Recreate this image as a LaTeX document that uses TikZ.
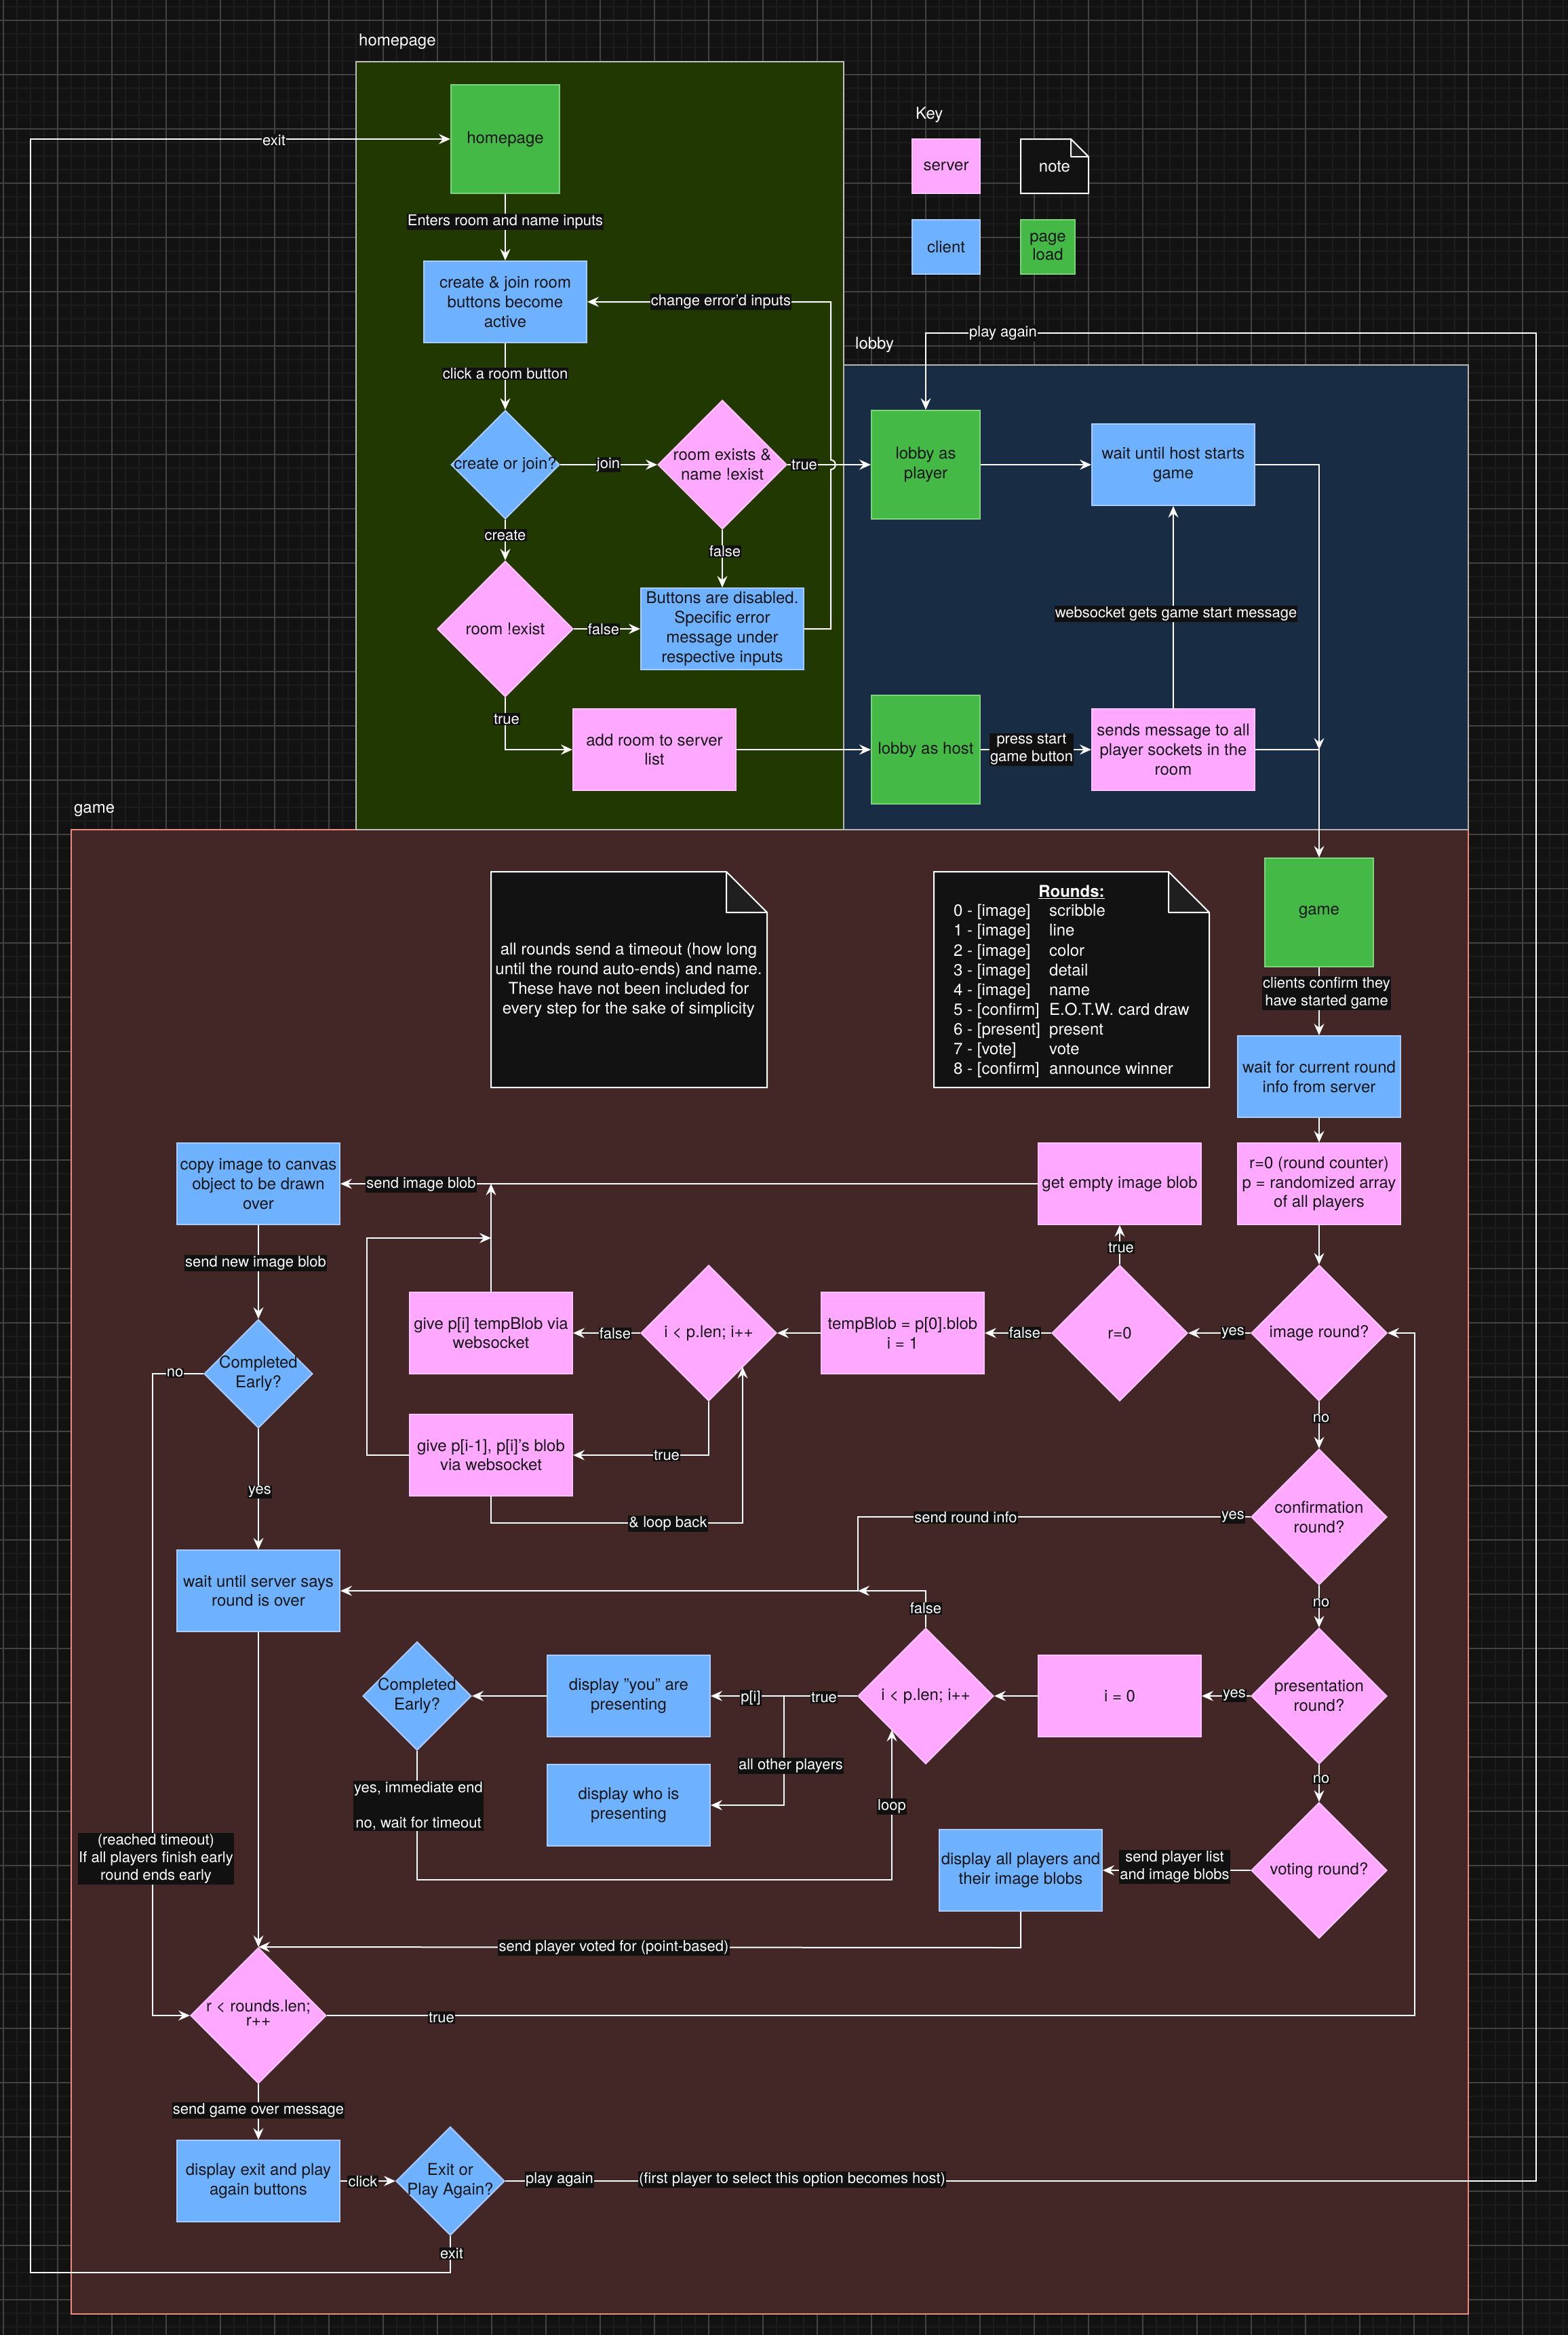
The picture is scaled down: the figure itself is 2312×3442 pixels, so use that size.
\documentclass[tikz,border=0pt]{standalone}
\usepackage{fontspec}
\setmainfont{TeX Gyre Heros}[Ligatures=ResetAll]
\usetikzlibrary{shapes.geometric,arrows.meta}

\definecolor{bgc}{HTML}{121212}
\definecolor{gridminor}{HTML}{1D1D1D}
\definecolor{gridmajor}{HTML}{424242}
\definecolor{hpfill}{HTML}{213800}
\definecolor{hpline}{HTML}{BDBDBD}
\definecolor{lbfill}{HTML}{182C44}
\definecolor{lbline}{HTML}{B5B5B5}
\definecolor{gmfill}{HTML}{432626}
\definecolor{gmline}{HTML}{EE8A80}
\definecolor{srvfill}{HTML}{FFA8FF}
\definecolor{srvline}{HTML}{FFC4FF}
\definecolor{clifill}{HTML}{6EB1FF}
\definecolor{cliline}{HTML}{A9CBFF}
\definecolor{pgfill}{HTML}{44B946}
\definecolor{pgline}{HTML}{7FD37F}
\definecolor{notefill}{HTML}{121212}
\definecolor{foldfill}{HTML}{1F1F1F}
\definecolor{lblbg}{HTML}{111111}
\definecolor{txtdark}{HTML}{151515}

\newcommand\nodefont{\fontsize{24}{28.8}\selectfont}
\newcommand\labfont{\fontsize{22}{26}\selectfont}

\begin{document}
\begin{tikzpicture}[x=1pt,y=-1pt,
  gminor/.style={draw=gridminor,line width=2pt},
  gmajor/.style={draw=gridmajor,line width=1.3pt},
  base/.style={draw,line width=2pt,inner sep=0pt,align=center,text=txtdark,font=\nodefont},
  srv/.style={base,fill=srvfill,draw=srvline},
  cli/.style={base,fill=clifill,draw=cliline},
  pg/.style={base,fill=pgfill,draw=pgline},
  sq/.style={rectangle,minimum width=160pt,minimum height=160pt},
  wide/.style={rectangle,minimum width=240pt,minimum height=120pt},
  dm/.style={diamond,minimum width=#1pt,minimum height=#1pt},
  dtext/.style={inner sep=0pt,align=center,text=txtdark,font=\nodefont},
  wtext/.style={inner sep=0pt,align=center,text=white,font=\nodefont},
  elab/.style={fill=lblbg,text=white,font=\labfont,inner sep=1.2pt,align=center},
  flow/.style={draw=white,line width=2pt,-{Stealth[length=17pt,width=15pt,inset=6pt]}},
  notebox/.style={draw=white,line width=2pt,fill=notefill},
  notefold/.style={draw=white,line width=2pt,fill=foldfill,line join=round},
]
\useasboundingbox (0,0) rectangle (2312,3442);
\fill[bgc] (0,0) rectangle (2312,3442);

% background grid
\begin{scope}
\clip (0,0) rectangle (2312,3442);
\foreach \x in {5,25,...,2305} \draw[gminor] (\x,0) -- (\x,3442);
\foreach \y in {10,30,...,3430} \draw[gminor] (0,\y) -- (2312,\y);
\foreach \x in {5,85,...,2245} \draw[gmajor] (\x,0) -- (\x,3442);
\foreach \y in {30,110,...,3390} \draw[gmajor] (0,\y) -- (2312,\y);
\end{scope}

% swimlane containers
\draw[draw=gmline,fill=gmfill,line width=2pt] (105,1223) rectangle (2165,3411);
\draw[draw=hpline,fill=hpfill,line width=2pt] (525,91) rectangle (1244,1223);
\draw[draw=lbline,fill=lbfill,line width=2pt] (1244,538) rectangle (2165,1223);
\node[wtext,anchor=west] (lanehp) at (529,61) {homepage};
\node[wtext,anchor=west] (lanelb) at (1261,508) {lobby};
\node[wtext,anchor=west] (lanegm) at (109,1195) {game};

% key
\node[wtext,anchor=west] (keyt) at (1350,169) {Key};
\node[srv,rectangle,minimum width=100pt,minimum height=80pt] (keysrv) at (1395,245) {server};
\node[cli,rectangle,minimum width=100pt,minimum height=80pt] (keycli) at (1395,364) {client};
\node[pg,rectangle,minimum width=80pt,minimum height=80pt,font=\nodefont\linespread{0.95}\selectfont] (keypg) at (1545,364) {page\\load};
\draw[notebox] (1505,205) -- (1579,205) -- (1605,231) -- (1605,285) -- (1505,285) -- cycle;
\draw[notefold] (1579,205) -- (1579,231) -- (1605,231) -- cycle;
\node[wtext] (keynote) at (1555,246) {note};

% notes in the game lane
\draw[notebox] (724,1285) -- (1071,1285) -- (1131,1345) -- (1131,1603) -- (724,1603) -- cycle;
\draw[notefold] (1071,1285) -- (1071,1345) -- (1131,1345) -- cycle;
\node[wtext] (note1) at (927,1445) {all rounds send a timeout (how long\\until the round auto-ends) and name.\\These have not been included for\\every step for the sake of simplicity};
\draw[notebox] (1377,1285) -- (1723,1285) -- (1783,1345) -- (1783,1603) -- (1377,1603) -- cycle;
\draw[notefold] (1723,1285) -- (1723,1345) -- (1783,1345) -- cycle;
\node[wtext] (roundst) at (1580,1315) {\underline{\textbf{Rounds:}}};
\node[wtext,anchor=west,align=left,font=\fontsize{24}{29.1}\selectfont] (rounds) at (1406,1461) {%
\makebox[141pt][l]{0 - [image]}scribble\\
\makebox[141pt][l]{1 - [image]}line\\
\makebox[141pt][l]{2 - [image]}color\\
\makebox[141pt][l]{3 - [image]}detail\\
\makebox[141pt][l]{4 - [image]}name\\
\makebox[141pt][l]{5 - [confirm]}E.O.T.W. card draw\\
\makebox[141pt][l]{6 - [present]}present\\
\makebox[141pt][l]{7 - [vote]}vote\\
\makebox[141pt][l]{8 - [confirm]}announce winner};

% homepage lane
\node[pg,sq] (hp) at (745,205) {homepage};
\node[cli,wide] (cj) at (745,445) {create \& join room\\buttons become\\active};
\node[cli,dm=160] (cjd) at (745,685) {};
\node[dtext] (cjdt) at (cjd) {create or join?};
\node[srv,dm=190] (rex) at (1065,685) {};
\node[dtext] (rext) at (rex) {room exists \&\\name !exist};
\node[srv,dm=200] (rne) at (745,927) {};
\node[dtext] (rnet) at (rne) {room !exist};
\node[cli,wide] (dis) at (1065,927) {Buttons are disabled.\\Specific error\\message under\\respective inputs};
\node[srv,wide] (add) at (965,1105) {add room to server\\list};

% lobby lane
\node[pg,sq] (lp) at (1365,685) {lobby as\\player};
\node[cli,wide] (wh) at (1730,685) {wait until host starts\\game};
\node[pg,sq] (lh) at (1365,1105) {lobby as host};
\node[srv,wide] (sm) at (1730,1105) {sends message to all\\player sockets in the\\room};

% game lane
\node[pg,sq] (gm) at (1945,1345) {game};
\node[cli,wide] (wr) at (1945,1587) {wait for current round\\info from server};
\node[srv,wide] (rz) at (1945,1745) {r=0 (round counter)\\p = randomized array\\of all players};
\node[srv,dm=200] (imr) at (1945,1965) {};
\node[dtext] (imrt) at (imr) {image round?};
\node[srv,dm=200] (r0) at (1651,1965) {};
\node[dtext] (r0t) at (r0) {r=0};
\node[srv,wide] (geb) at (1651,1745) {get empty image blob};
\node[srv,wide] (tb) at (1331,1965) {tempBlob = p[0].blob\\i = 1};
\node[srv,dm=200] (il1) at (1045,1965) {};
\node[dtext] (il1t) at (il1) {i < p.len; i++};
\node[srv,wide] (gt) at (724,1965) {give p[i] tempBlob via\\websocket};
\node[srv,wide] (gb) at (724,2145) {give p[i-1], p[i]'s blob\\via websocket};
\node[cli,wide] (ci) at (381,1745) {copy image to canvas\\object to be drawn\\over};
\node[cli,dm=160] (ce1) at (381,2025) {};
\node[dtext] (ce1t) at (ce1) {Completed\\Early?};
\node[cli,wide] (ws) at (381,2345) {wait until server says\\round is over};
\node[srv,dm=200] (cr) at (1945,2236) {};
\node[dtext] (crt) at (cr) {confirmation\\round?};
\node[srv,dm=200] (pr) at (1945,2500) {};
\node[dtext] (prt) at (pr) {presentation\\round?};
\node[srv,dm=200] (vr) at (1945,2757) {};
\node[dtext] (vrt) at (vr) {voting round?};
\node[srv,wide] (i0) at (1651,2500) {i = 0};
\node[srv,dm=200] (il2) at (1365,2500) {};
\node[dtext] (il2t) at (il2) {i < p.len; i++};
\node[cli,wide] (dy) at (927,2500) {display "you" are\\presenting};
\node[cli,wide] (dw) at (927,2661) {display who is\\presenting};
\node[cli,dm=160] (ce2) at (615,2500) {};
\node[dtext] (ce2t) at (ce2) {Completed\\Early?};
\node[cli,wide] (dap) at (1505,2757) {display all players and\\their image blobs};
\node[srv,dm=200] (rl) at (381,2971) {};
\node[dtext,font=\fontsize{24}{21}\selectfont] (rlt) at (381,2967) {r < rounds.len;\\r++};
\node[cli,wide] (de) at (381,3215) {display exit and play\\again buttons};
\node[cli,dm=160] (ep) at (664,3215) {};
\node[dtext] (ept) at (ep) {Exit or\\Play Again?};

% connectors: homepage and lobby
\draw[flow] (hp.south) -- (cj.north);
\draw[flow] (cj.south) -- (cjd.north);
\draw[flow] (cjd.east) -- (rex.west);
\draw[flow] (cjd.south) -- (rne.north);
\draw[flow] (rex.south) -- (dis.north);
\draw[flow] (rne.east) -- (dis.west);
\draw[flow] (rex.east) -- (lp.west);
\draw[flow] (dis.east) -- (1225,927) -- (1225,692) .. controls (1234,692) and (1234,678) .. (1225,678) -- (1225,445) -- (cj.east);
\draw[flow] (rne.south) -- (745,1105) -- (add.west);
\draw[flow] (add.east) -- (lh.west);
\draw[flow] (lp.east) -- (wh.west);
\draw[flow] (lh.east) -- (sm.west);
\draw[flow] (sm.north) -- (wh.south);
\coordinate (jn) at (1945,1105);
\draw[flow] (wh.east) -- (1945,685) -- (jn);
\draw[flow] (sm.east) -- (jn) -- (gm.north);

% connectors: game
\draw[flow] (gm.south) -- (wr.north);
\draw[flow] (wr.south) -- (rz.north);
\draw[flow] (rz.south) -- (imr.north);
\draw[flow] (imr.west) -- (r0.east);
\draw[flow] (r0.north) -- (geb.south);
\draw[flow] (r0.west) -- (tb.east);
\draw[flow] (tb.west) -- (il1.east);
\draw[flow] (geb.west) -- (ci.east);
\draw[flow] (il1.west) -- (gt.east);
\coordinate (gtj) at (724,1745);
\draw[flow] (gt.north) -- (gtj);
\draw[flow] (il1.south) -- (1045,2145) -- (gb.east);
\coordinate (gbj) at (724,1825);
\draw[flow] (gb.west) -- (541,2145) -- (541,1825) -- (gbj);
\coordinate (il1in) at (1095,2015);
\draw[flow] (gb.south) -- (724,2245) -- (1095,2245) -- (il1in);
\draw[flow] (ci.south) -- (ce1.north);
\draw[flow] (ce1.south) -- (ws.north);
\draw[flow] (ce1.west) -- (225,2025) -- (225,2971) -- (rl.west);
\draw[flow] (ws.south) -- (rl.north);
\draw[flow] (imr.south) -- (cr.north);
\coordinate (sr) at (1265,2345);
\draw[flow] (cr.west) -- (1265,2236) -- (sr) -- (ws.east);
\draw[flow] (il2.north) -- (1365,2345) -- (sr);
\draw[flow] (cr.south) -- (pr.north);
\draw[flow] (pr.west) -- (i0.east);
\draw[flow] (i0.west) -- (il2.east);
\draw[flow] (il2.west) -- (dy.east);
\draw[flow] (il2.west) -- (1156,2500) -- (1156,2661) -- (dw.east);
\draw[flow] (dy.west) -- (ce2.east);
\coordinate (il2in) at (1315,2550);
\draw[flow] (ce2.south) -- (615,2771) -- (1315,2771) -- (il2in);
\draw[flow] (pr.south) -- (vr.north);
\draw[flow] (vr.west) -- (dap.east);
\draw[flow] (dap.south) -- (1505,2871) -- (rl.north);
\draw[flow] (rl.east) -- (2086,2971) -- (2086,1965) -- (imr.east);
\draw[flow] (rl.south) -- (de.north);
\draw[flow] (de.east) -- (ep.west);
\draw[flow] (ep.east) -- (2265,3215) -- (2265,491) -- (1365,491) -- (lp.north);
\draw[flow] (ep.south) -- (664,3350) -- (45,3350) -- (45,205) -- (hp.west);

% connector labels
\node[elab] (l1) at (745,327) {Enters room and name inputs};
\node[elab] (l2) at (745,551) {click a room button};
\node[elab] (l3) at (897,685) {join};
\node[elab] (l4) at (745,789) {create};
\node[elab] (l5) at (1069,813) {false};
\node[elab] (l6) at (890,928) {false};
\node[elab] (l7) at (1186,685) {true};
\node[elab] (l8) at (1063,445) {change error'd inputs};
\node[elab] (l9) at (747,1060) {true};
\node[elab] (l10) at (1521,1105) {press start\\game button};
\node[elab] (l11) at (1734,905) {websocket gets game start message};
\node[elab] (l12) at (1479,491) {play again};
\node[elab] (l13) at (404,207) {exit};
\node[elab] (l14) at (1956,1464) {clients confirm they\\have started game};
\node[elab] (l15) at (1818,1965) {yes};
\node[elab] (l16) at (1653,1839) {true};
\node[elab] (l17) at (1511,1965) {false};
\node[elab] (l18) at (621,1746) {send image blob};
\node[elab] (l19) at (907,1966) {false};
\node[elab] (l20) at (983,2145) {true};
\node[elab] (l21) at (985,2246) {\& loop back};
\node[elab] (l22) at (377,1862) {send new image blob};
\node[elab] (l23) at (258,2024) {no};
\node[elab] (l24) at (383,2199) {yes};
\node[elab] (l25) at (1948,2091) {no};
\node[elab] (l26) at (1818,2236) {yes};
\node[elab] (l27) at (1424,2237) {send round info};
\node[elab] (l28) at (1948,2363) {no};
\node[elab] (l29) at (1820,2499) {yes};
\node[elab] (l30) at (1365,2371) {false};
\node[elab] (l31) at (1215,2502) {true};
\node[elab] (l32) at (1107,2503) {p[i]};
\node[elab] (l33) at (1166,2603) {all other players};
\node[elab] (l34) at (1315,2663) {loop};
\node[elab] (l35) at (617,2662) {yes, immediate end\\[26pt]no, wait for timeout};
\node[elab] (l36) at (230,2740) {(reached timeout)\\If all players finish early\\round ends early};
\node[elab] (l37) at (1948,2623) {no};
\node[elab] (l38) at (1732,2752) {send player list\\and image blobs};
\node[elab] (l39) at (905,2871) {send player voted for (point-based)};
\node[elab] (l40) at (651,2974) {true};
\node[elab] (l41) at (381,3111) {send game over message};
\node[elab] (l42) at (535,3216) {click};
\node[elab] (l43) at (825,3213) {play again};
\node[elab] (l44) at (1168,3213) {(first player to select this option becomes host)};
\node[elab] (l45) at (666,3322) {exit};
\end{tikzpicture}
\end{document}
